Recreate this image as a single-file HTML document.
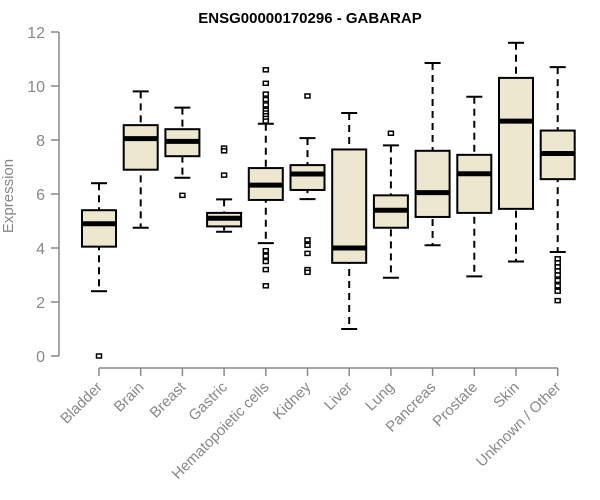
<!DOCTYPE html>
<html><head><meta charset="utf-8"><style>
body{margin:0;background:#fff}
svg{display:block;font-family:"Liberation Sans",Arial,sans-serif}
</style></head><body>
<svg id="chart" width="600" height="500" viewBox="0 0 600 500" xmlns="http://www.w3.org/2000/svg">
<text x="310" y="23" text-anchor="middle" font-weight="bold" font-size="15">ENSG00000170296 - GABARAP</text>
<text transform="translate(13,196) rotate(-90)" text-anchor="middle" font-size="15" fill="#888">Expression</text>
<g id="g"></g>
</svg>
<script>
const categories=["Bladder","Brain","Breast","Gastric","Hematopoietic cells","Kidney","Liver","Lung","Pancreas","Prostate","Skin","Unknown / Other"];
const whiskerLow=[2.4,4.75,6.6,4.6,4.18,5.81,1.0,2.9,4.1,2.95,3.5,3.85];
const q1=[4.05,6.9,7.4,4.8,5.78,6.15,3.45,4.75,5.15,5.3,5.45,6.55];
const median=[4.9,8.05,7.95,5.1,6.33,6.74,4.0,5.4,6.05,6.75,8.7,7.5];
const q3=[5.4,8.55,8.4,5.3,6.96,7.07,7.65,5.95,7.6,7.45,10.3,8.35];
const whiskerHigh=[6.4,9.8,9.2,5.8,8.6,8.07,9.0,7.8,10.85,9.6,11.6,10.7];
const outliers=[[0],[],[5.95],[7.7,7.6,6.7],[10.6,10.1,9.7,9.5,9.3,9.1,9.0,8.9,8.8,8.7,3.9,3.7,3.5,3.2,2.6],[9.63,4.3,4.1,3.8,3.2,3.1],[],[8.25],[],[],[],[3.6,3.45,3.3,3.15,3.0,2.8,2.6,2.4,2.05]];
const yTicks=[0,2,4,6,8,10,12];
const ns="http://www.w3.org/2000/svg",g=document.getElementById('g');
const y=v=>356-v*27, x=i=>99+i*41.7;
function el(t,a){const e=document.createElementNS(ns,t);for(const k in a)e.setAttribute(k,a[k]);g.appendChild(e);return e;}
let e=el('line',{x1:59,x2:59,y1:y(12),y2:y(0),stroke:'#888','stroke-width':1.5});

yTicks.forEach(v=>{let t=el('line',{x1:51,x2:59,y1:y(v),y2:y(v),stroke:'#888','stroke-width':1.5});

let l=el('text',{x:45,y:y(v)+6,'text-anchor':'end','font-size':16,fill:'#888'});l.textContent=v;
});
e=el('line',{x1:x(0),x2:x(11),y1:368,y2:368,stroke:'#888','stroke-width':1.5});

categories.forEach((c,i)=>{const cx=x(i);
let t=el('line',{x1:cx,x2:cx,y1:368,y2:376,stroke:'#888','stroke-width':1.5});

let l=el('text',{transform:`translate(${cx+4},${388}) rotate(-45)`,'text-anchor':'end','font-size':15,fill:'#888'});l.textContent=c;

let w=el('line',{x1:cx,x2:cx,y1:y(whiskerHigh[i]),y2:y(whiskerLow[i]),stroke:'#000','stroke-width':2,'stroke-dasharray':'7,5'});

[whiskerLow[i],whiskerHigh[i]].forEach(v=>{let c2=el('line',{x1:cx-8,x2:cx+8,y1:y(v),y2:y(v),stroke:'#000','stroke-width':2});
});
let b=el('rect',{x:cx-17,y:y(q3[i]),width:34,height:y(q1[i])-y(q3[i]),fill:'#ede7cf',stroke:'#000','stroke-width':2});

let m=el('line',{x1:cx-17,x2:cx+17,y1:y(median[i]),y2:y(median[i]),stroke:'#000','stroke-width':5});

outliers[i].forEach(v=>{let o=el('rect',{x:cx-2.5,y:y(v)-2,width:5,height:4,fill:'#fff',stroke:'#000','stroke-width':1.5});
});
});
</script>
</body></html>
